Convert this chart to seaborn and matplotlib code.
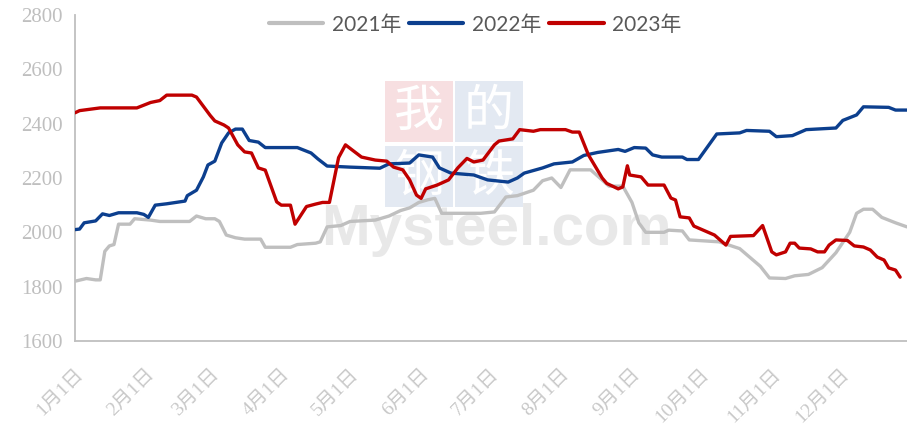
import numpy as np
import pandas as pd
import matplotlib
matplotlib.use("Agg")
import matplotlib.pyplot as plt
from matplotlib.patches import Rectangle
import seaborn as sns

# --- data (dates mapped onto one common year) ---
dates_2021 = ["01-01", "01-06", "01-10", "01-12", "01-14", "01-16", "01-18", "01-20", "01-25", "01-27",
              "02-03", "02-07", "02-20", "02-23", "02-27", "03-03", "03-05", "03-08", "03-12", "03-16",
              "03-23", "03-25", "04-05", "04-08", "04-16", "04-18", "04-21", "04-27", "05-01", "05-12",
              "05-18", "05-23", "05-27", "05-31", "06-04", "06-07", "06-10", "06-27", "07-03", "07-08",
              "07-13", "07-20", "07-24", "07-28", "08-01", "08-05", "08-14", "08-18", "08-22", "08-28",
              "09-01", "09-04", "09-07", "09-15", "09-17", "09-23", "09-26", "10-09", "10-18", "10-27",
              "10-31", "11-07", "11-11", "11-17", "11-23", "11-29", "12-05", "12-08", "12-11", "12-15",
              "12-19", "12-25", "12-30"]
price_2021 = [1820, 1830, 1825, 1825, 1930, 1950, 1955, 2030, 2030, 2050,
              2045, 2040, 2040, 2060, 2050, 2050, 2040, 1990, 1980, 1975,
              1975, 1945, 1945, 1955, 1960, 1965, 2020, 2025, 2040, 2045,
              2060, 2080, 2090, 2110, 2120, 2125, 2070, 2070, 2075, 2130,
              2135, 2155, 2190, 2200, 2165, 2230, 2230, 2200, 2170, 2170,
              2110, 2035, 2000, 2000, 2008, 2005, 1972, 1965, 1940, 1875,
              1832, 1830, 1840, 1845, 1870, 1925, 2000, 2070, 2085, 2085,
              2055, 2035, 2020]

dates_2022 = ["01-01", "01-03", "01-05", "01-10", "01-13", "01-16", "01-20", "01-28", "01-31", "02-02",
              "02-05", "02-10", "02-18", "02-19", "02-23", "02-26", "02-28", "03-03", "03-06", "03-09",
              "03-12", "03-15", "03-18", "03-22", "03-25", "04-08", "04-14", "04-17", "04-21", "05-01",
              "05-14", "05-18", "05-27", "05-31", "06-06", "06-09", "06-14", "06-24", "06-30", "07-09",
              "07-13", "07-16", "07-24", "07-29", "08-06", "08-11", "08-17", "08-26", "08-29", "09-02",
              "09-07", "09-10", "09-14", "09-23", "09-25", "09-30", "10-08", "10-18", "10-21", "10-31",
              "11-03", "11-10", "11-16", "11-29", "12-02", "12-08", "12-11", "12-22", "12-25", "12-30"]
price_2022 = [2010, 2012, 2035, 2042, 2068, 2062, 2072, 2072, 2066, 2055,
              2100, 2105, 2115, 2135, 2155, 2204, 2248, 2262, 2329, 2366,
              2380, 2380, 2338, 2332, 2312, 2312, 2292, 2270, 2244, 2240,
              2236, 2252, 2255, 2285, 2277, 2237, 2218, 2211, 2193, 2185,
              2200, 2218, 2237, 2252, 2259, 2283, 2294, 2305, 2298, 2312,
              2310, 2285, 2277, 2277, 2268, 2268, 2362, 2366, 2375, 2372,
              2352, 2356, 2378, 2384, 2412, 2432, 2462, 2460, 2450, 2450]

dates_2023 = ["01-01", "01-03", "01-12", "01-28", "02-03", "02-07", "02-10", "02-21", "02-23", "03-01",
              "03-03", "03-07", "03-09", "03-13", "03-16", "03-19", "03-22", "03-25", "03-30", "04-01",
              "04-05", "04-07", "04-12", "04-16", "04-19", "04-22", "04-26", "04-29", "05-06", "05-12",
              "05-17", "05-20", "05-24", "05-27", "05-30", "06-01", "06-03", "06-08", "06-13", "06-17",
              "06-21", "06-24", "06-28", "07-03", "07-05", "07-11", "07-14", "07-20", "07-23", "08-03",
              "08-06", "08-09", "08-13", "08-19", "08-21", "08-26", "08-28", "08-30", "08-31", "09-05",
              "09-08", "09-15", "09-18", "09-20", "09-22", "09-26", "09-28", "10-07", "10-12", "10-14",
              "10-24", "10-28", "11-01", "11-03", "11-07", "11-09", "11-11", "11-13", "11-18", "11-21",
              "11-24", "11-26", "11-29", "12-04", "12-07", "12-11", "12-14", "12-17", "12-20", "12-22",
              "12-25", "12-27"]
price_2023 = [2440, 2448, 2458, 2458, 2478, 2485, 2505, 2505, 2498, 2430,
              2410, 2395, 2384, 2322, 2296, 2292, 2237, 2229, 2112, 2100,
              2100, 2030, 2095, 2104, 2110, 2110, 2275, 2322, 2277, 2266,
              2262, 2240, 2230, 2193, 2137, 2125, 2160, 2174, 2193, 2237,
              2272, 2259, 2266, 2322, 2336, 2344, 2378, 2372, 2378, 2378,
              2369, 2369, 2285, 2200, 2180, 2160, 2167, 2245, 2211, 2204,
              2174, 2174, 2126, 2119, 2057, 2053, 2023, 1990, 1953, 1985,
              1988, 2025, 1928, 1917, 1928, 1960, 1960, 1942, 1939, 1928,
              1928, 1953, 1972, 1970, 1950, 1946, 1935, 1909, 1898, 1869,
              1861, 1835]

years = ["2021年", "2022年", "2023年"]
colors = ["#bfbfbf", "#0c3f8e", "#c00000"]
month_labels = [f"{m}月1日" for m in range(1, 13)]
logo_chars = ["我", "的", "钢", "铁"]

frames = []
for year, d, p in zip(years, [dates_2021, dates_2022, dates_2023], [price_2021, price_2022, price_2023]):
    frames.append(pd.DataFrame({"date": pd.to_datetime(["2023-" + s for s in d]),
                                "price": p, "year": year}))
df = pd.concat(frames, ignore_index=True)

sns.set_style("white")
plt.rcParams["font.family"] = ["Liberation Serif", "Noto Sans CJK SC", "DejaVu Sans"]

fig = plt.figure(figsize=(9.07, 4.37), dpi=100)
ax = fig.add_axes([0.0827, 0.2197, 0.9173, 0.746])

# faint watermark (logo squares + site name)
box_x = [0.373, 0.457, 0.373, 0.457]
box_y = [0.610, 0.610, 0.410, 0.410]
box_c = ["#f7dfe1", "#e3e9f2", "#e3e9f2", "#e3e9f2"]
for ch, bx, by, bc in zip(logo_chars, box_x, box_y, box_c):
    ax.add_patch(Rectangle((bx, by), 0.081, 0.188, transform=ax.transAxes,
                           facecolor=bc, edgecolor="none", zorder=0))
    ax.text(bx + 0.0405, by + 0.094, ch, transform=ax.transAxes, ha="center", va="center",
            fontsize=36, color="white", family="Noto Sans CJK SC", zorder=0.5)
ax.text(0.506, 0.294, "Mysteel.com", transform=ax.transAxes, ha="center", va="baseline",
        fontsize=42, fontweight="bold", color="#e8e8e8", family="Liberation Sans", zorder=0.6)

sns.lineplot(data=df, x="date", y="price", hue="year", palette=colors, hue_order=years,
             estimator=None, sort=True, linewidth=2.4, ax=ax, zorder=3)

ax.set_ylim(1600, 2800)
ax.set_yticks(np.arange(1600, 2801, 200))
ax.set_xlim(pd.Timestamp("2023-01-01"), pd.Timestamp("2023-12-30"))
ax.set_xticks(pd.date_range("2023-01-01", periods=12, freq="MS"))
ax.set_xticklabels(month_labels, rotation=45, ha="right", rotation_mode="anchor")
ax.set_xlabel("")
ax.set_ylabel("")

for side in ["top", "right"]:
    ax.spines[side].set_visible(False)
for side in ["left", "bottom"]:
    ax.spines[side].set_color("#bfbfbf")
    ax.spines[side].set_linewidth(1.3)

ax.tick_params(axis="y", direction="out", length=6, width=1.2, color="#bfbfbf",
               labelcolor="#bfbfbf", labelsize=15, pad=3)
ax.tick_params(axis="x", direction="out", length=6, width=1.2, color="#bfbfbf",
               labelcolor="#c8c8c8", labelsize=14, pad=12)

leg = ax.legend(loc="center", bbox_to_anchor=(0.481, 0.97), ncol=3, frameon=False,
                handlelength=2.6, columnspacing=0.4, handletextpad=0.4,
                prop={"family": ["Lato", "Noto Sans CJK SC"], "size": 15})
for t in leg.get_texts():
    t.set_color("#595959")
for h in leg.get_lines():
    h.set_linewidth(3)

fig.savefig("out.png", dpi=100)
